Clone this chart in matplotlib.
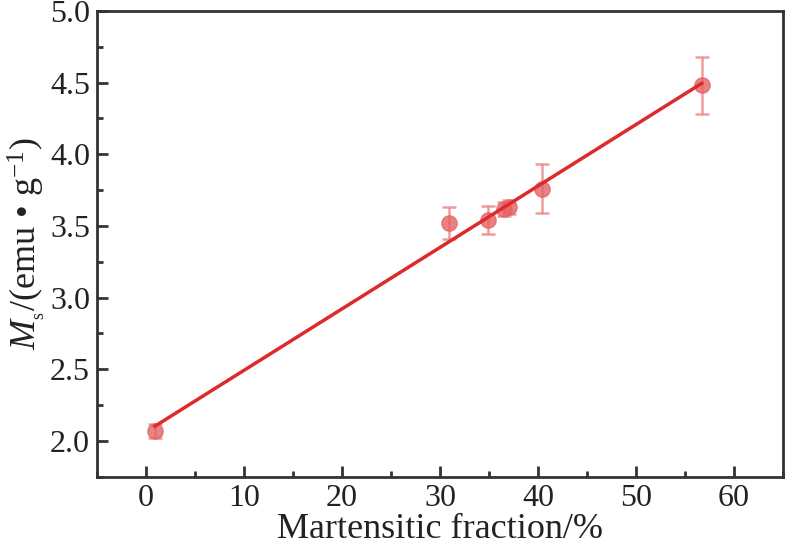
import matplotlib
matplotlib.use("Agg")
import matplotlib.pyplot as plt
import numpy as np
from matplotlib.ticker import MultipleLocator, FormatStrFormatter

plt.rcParams['font.family'] = ['Liberation Serif', 'DejaVu Serif']
plt.rcParams['mathtext.fontset'] = 'custom'
plt.rcParams['mathtext.rm'] = 'Liberation Serif'
plt.rcParams['mathtext.it'] = 'Liberation Serif:italic'

# martensitic fraction (%) and saturation magnetisation
frac = [0.9, 30.9, 34.9, 36.5, 37.0, 40.4, 56.7]
ms = [2.07, 3.52, 3.54, 3.62, 3.63, 3.76, 4.48]
err = [0.05, 0.11, 0.10, 0.05, 0.05, 0.17, 0.20]

# linear fit
k, b = np.polyfit(frac, ms, 1)
xfit = np.array([frac[0], frac[-1]])

fig = plt.figure(figsize=(7.87, 5.45), dpi=100)
ax = fig.add_axes([0.1233, 0.1253, 0.8717, 0.8547])

ax.errorbar(frac, ms, yerr=err, fmt='o', ms=11, color='#e46464', alpha=0.8,
            ecolor='#e88585', elinewidth=1.8, capsize=5, capthick=1.8, zorder=2)
ax.plot(xfit, k * xfit + b, color='#dd2a2a', lw=2.5, zorder=3)

ax.set_xlim(-5, 65)
ax.set_ylim(1.75, 5.0)
ax.xaxis.set_major_locator(MultipleLocator(10))
ax.xaxis.set_minor_locator(MultipleLocator(5))
ax.yaxis.set_major_locator(MultipleLocator(0.5))
ax.yaxis.set_minor_locator(MultipleLocator(0.25))
ax.yaxis.set_major_formatter(FormatStrFormatter('%.1f'))
ax.tick_params(which='both', direction='in', top=False, right=False,
               width=2, color='#333333', labelsize=23, labelcolor='#222222')
ax.tick_params(which='major', length=8, pad=5)
ax.tick_params(which='minor', length=4)
for s in ax.spines.values():
    s.set_linewidth(2)
    s.set_color('#333333')

ax.set_xlabel('Martensitic fraction/%', fontsize=26, color='#222222', labelpad=0)
ax.set_ylabel(r'$M_{_\mathrm{s}}$/(emu • g$^{\mathrm{-1}}$)', fontsize=26,
              color='#222222', labelpad=2)

fig.savefig('out.png', dpi=100)
